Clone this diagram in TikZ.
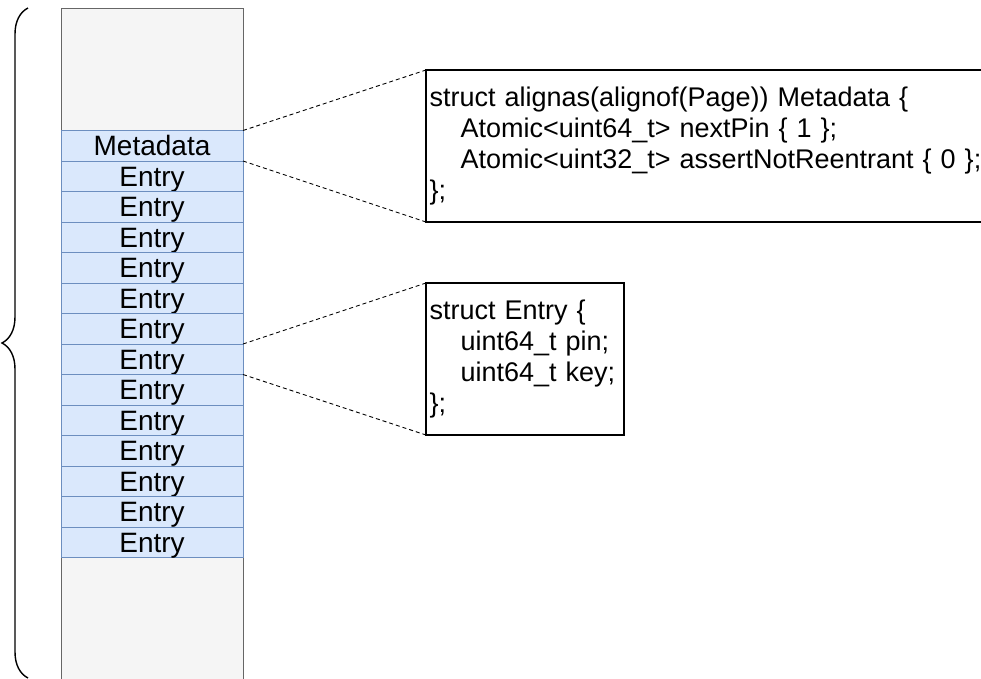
\documentclass[tikz,border=0pt]{standalone}
\usepackage{fontspec}
\setmainfont{Liberation Sans}
\usetikzlibrary{positioning,decorations.pathreplacing}
\definecolor{pagefill}{HTML}{F5F5F5}
\definecolor{pageline}{HTML}{666666}
\definecolor{slotfill}{HTML}{DAE8FC}
\definecolor{slotline}{HTML}{6C8EBF}

\begin{document}
\begin{tikzpicture}[x=1pt, y=-1pt, line width=1pt,
    page/.style = {draw=pageline, fill=pagefill, anchor=north, minimum width=182pt, minimum height=692pt, inner sep=0pt, outer sep=0pt},
    slot/.style = {draw=slotline, fill=slotfill, minimum width=182pt, minimum height=30.5pt, inner sep=0pt, outer sep=0pt, font=\fontsize{28}{28}\selectfont, text height=20pt, text depth=0pt},
    codebox/.style = {draw, line width=1.3pt, fill=white, anchor=north west, align=left, inner xsep=3.5pt, inner ysep=0pt, outer sep=0pt, minimum height=152pt, font=\fontsize{27}{31}\selectfont},
    zoomline/.style = {line width=0.9pt, dash pattern=on 4pt off 3pt}]
    \path[use as bounding box, clip] (0,0) rectangle (981,678);

    \node[page] (page) at (152,8) {};
    \node[slot, anchor=north] (meta) at (152,130.5) {Metadata};
    \node[slot, below=0pt of meta] (e1) {Entry};
    \foreach \i [remember=\i as \prev (initially 1)] in {2,...,13}
        \node[slot, below=0pt of e\prev] (e\i) {Entry};

    % brace along the page
    \draw[line width=1.4pt, decorate, decoration={brace, amplitude=26pt}] (28,678) -- (28,8);

    \node[codebox, text width=593pt] (metabox) at (426,70) {struct alignas(alignof(Page)) Metadata \{\\
        \hspace*{31pt}Atomic<uint64\_t> nextPin \{ 1 \};\\
        \hspace*{31pt}Atomic<uint32\_t> assertNotReentrant \{ 0 \};\\
        \};};
    \node[codebox, text width=191pt] (entrybox) at (426,283) {struct Entry \{\\
        \hspace*{31pt}uint64\_t pin;\\
        \hspace*{31pt}uint64\_t key;\\
        \};};

    \draw[zoomline] (meta.north east) -- (metabox.north west);
    \draw[zoomline] (meta.south east) -- (metabox.south west);
    \draw[zoomline] (e7.north east) -- (entrybox.north west);
    \draw[zoomline] (e7.south east) -- (entrybox.south west);
\end{tikzpicture}
\end{document}
